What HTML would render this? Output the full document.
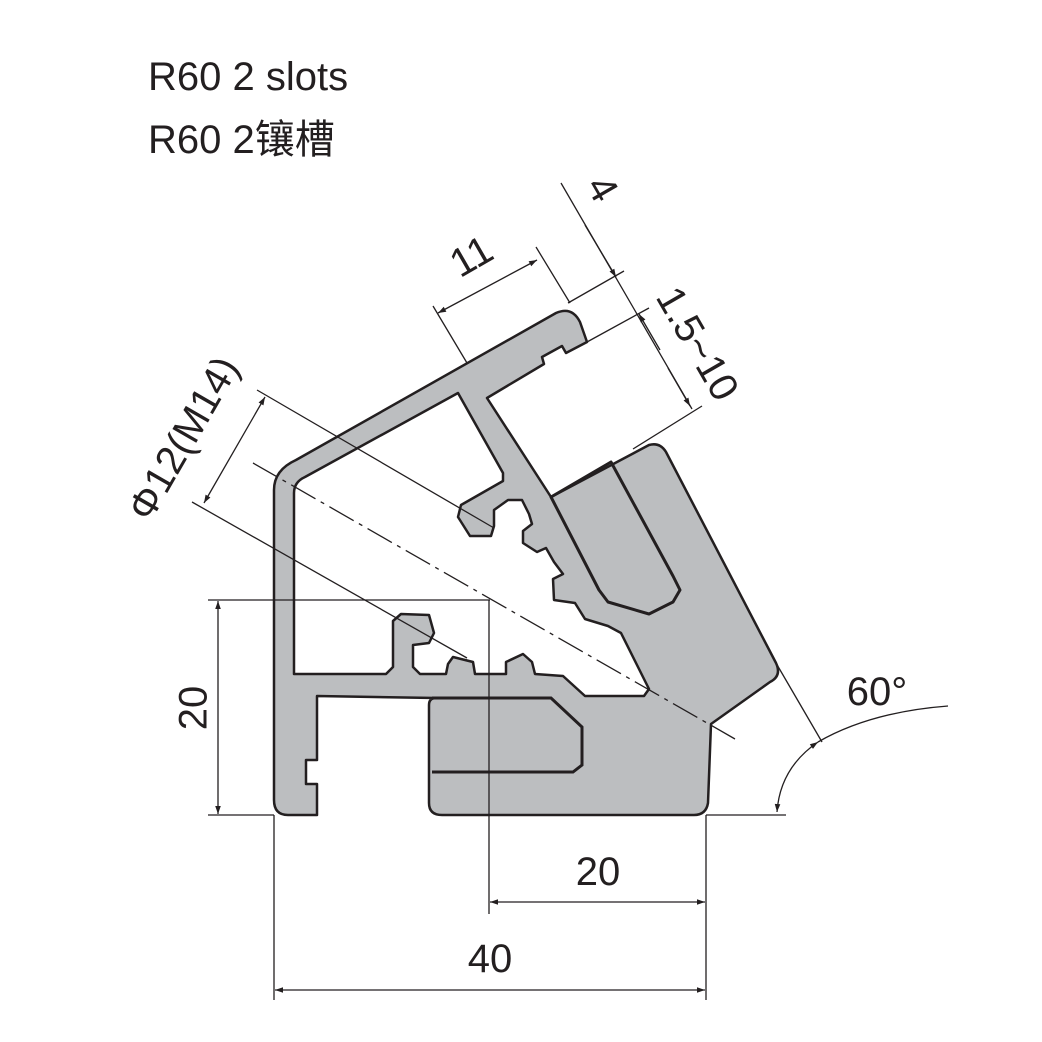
<!DOCTYPE html>
<html><head><meta charset="utf-8"><style>
html,body{margin:0;padding:0;background:#fff;}
svg{display:block;}
text{font-family:"Liberation Sans","Noto Sans CJK SC",sans-serif;fill:#231f20;}
</style></head><body>
<svg width="1042" height="1042" viewBox="0 0 1042 1042" xmlns="http://www.w3.org/2000/svg">
<defs>
<marker id="a" viewBox="0 0 10 10" refX="10" refY="5" markerWidth="12" markerHeight="8" markerUnits="userSpaceOnUse" orient="auto-start-reverse"><path d="M0,1.5 L10,5 L0,8.5z" fill="#231f20"/></marker>
</defs>
<text x="148" y="90" font-size="40">R60 2 slots</text>
<text x="148" y="153" font-size="40">R60 2镶槽</text>

<path d="M274,800 L274,490 Q274,470 296,460 L556,313 Q572,306 580,322 L587,342 L566,353 L562,346 L542,357 L544,364 L487,398 L551,497 L649,445 Q660,442 666,452 L776,663 Q782,676 770,682 L711,724 L708,803 Q706,815 694,815 L442,815 Q429,815 429,803 L429,705 Q429,698 436,698 L317,696 L317,760 L306,760 L306,784 L317,784 L317,815 L288,815 Q274,815 274,800Z" fill="#bcbec0" stroke="#231f20" stroke-width="2.5" stroke-linejoin="round"/>
<path d="M294,493 Q294,482 305,477 L458,393 L503,473 L503,481 L461,505 L458,517 L470,536 L491,536 L494,526 L494,510 L508,500 L522,500 L529,514 L532,524 L523,531 L523,543 L537,552 L546,548 L554,562 L563,574 L553,579 L554,600 L575,603 L585,619 L608,626 L621,633 L649,689 L644,696 L585,696 L563,676 L535,674 L532,662 L523,654 L506,662 L506,674 L475,674 L473,662 L453,657 L448,664 L446,674 L420,674 L413,667 L413,645 L429,643 L434,633 L429,615 L401,614 L393,621 L393,667 L386,674 L294,674Z" fill="#fff" stroke="#231f20" stroke-width="2.5" stroke-linejoin="round"/>
<path d="M432,698 L551,698 L582,727 L582,765 L573,772 L432,772" fill="none" stroke="#231f20" stroke-width="3"/>
<path d="M551,497 L611,462 L673,576 L680,590 L673,602 L649,614 L608,602 L599,590 Z" fill="none" stroke="#231f20" stroke-width="3" stroke-linejoin="round"/>

<g stroke="#231f20" stroke-width="1.3" fill="none">
<line x1="253" y1="463" x2="735" y2="739" stroke-dasharray="28,6,4,6"/>
<line x1="257" y1="390" x2="494" y2="528"/>
<line x1="192" y1="502" x2="467" y2="658"/>
<line x1="265" y1="397" x2="204" y2="503" marker-start="url(#a)" marker-end="url(#a)"/>
<line x1="208" y1="600" x2="490" y2="600"/>
<line x1="208" y1="815" x2="274" y2="815"/>
<line x1="218" y1="601" x2="218" y2="814" marker-start="url(#a)" marker-end="url(#a)"/>
<line x1="489" y1="600" x2="489" y2="914"/>
<line x1="706" y1="815" x2="706" y2="1000"/>
<line x1="274" y1="815" x2="274" y2="1000"/>
<line x1="706" y1="815" x2="786" y2="815"/>
<line x1="490" y1="902" x2="705" y2="902" marker-start="url(#a)" marker-end="url(#a)"/>
<line x1="275" y1="990" x2="705" y2="990" marker-start="url(#a)" marker-end="url(#a)"/>
<line x1="776" y1="663" x2="822" y2="742"/>
<path d="M777,812 Q780,768 818,742" marker-start="url(#a)" marker-end="url(#a)"/>
<path d="M818,742 Q870,712 948,706"/>
<line x1="433" y1="306" x2="467" y2="363"/>
<line x1="536" y1="247" x2="570" y2="303"/>
<line x1="438" y1="313" x2="537" y2="260" marker-start="url(#a)" marker-end="url(#a)"/>
<line x1="561" y1="183" x2="692" y2="409"/>
<line x1="568" y1="303" x2="624" y2="271"/>
<line x1="587" y1="342" x2="649" y2="308"/>
<line x1="633" y1="449" x2="702" y2="406"/>
<path d="M585,225 L616,277" marker-end="url(#a)"/>
<path d="M660,350 L639,314" marker-end="url(#a)"/>
<path d="M668,368 L690,406" marker-end="url(#a)"/>
</g>
<text x="196" y="708" font-size="40" text-anchor="middle" transform="rotate(-90 196 708)" dominant-baseline="middle">20</text>
<text x="598" y="885" font-size="40" text-anchor="middle">20</text>
<text x="490" y="972" font-size="40" text-anchor="middle">40</text>
<text x="877" y="705" font-size="40" text-anchor="middle">60°</text>
<text x="478" y="268" font-size="40" text-anchor="middle" transform="rotate(-30 478 268)">11</text>
<text x="195" y="445" font-size="40" text-anchor="middle" transform="rotate(-60 195 445)">Φ12(M14)</text>
<text x="600" y="190" font-size="40" text-anchor="middle" transform="rotate(60 600 190)" dominant-baseline="middle">4</text>
<text x="695" y="345" font-size="40" text-anchor="middle" transform="rotate(60 695 345)" dominant-baseline="middle">1.5~10</text>
</svg>
</body></html>
